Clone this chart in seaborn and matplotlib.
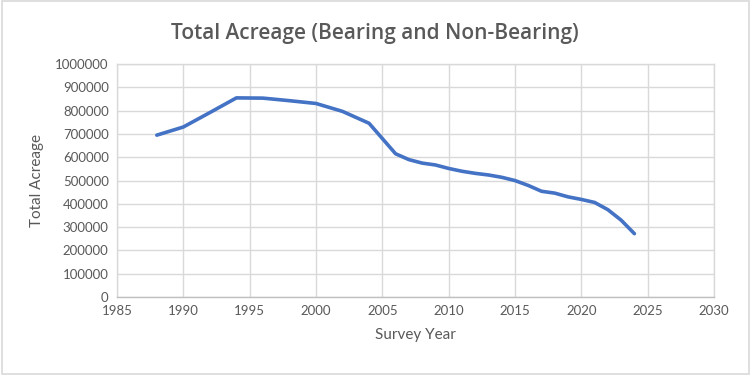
import matplotlib
matplotlib.use("Agg")
import matplotlib.pyplot as plt
import seaborn as sns
import pandas as pd
from matplotlib.patches import Rectangle

# survey data
years = [1988, 1990, 1992, 1994, 1996, 1998, 2000, 2002, 2004, 2006, 2007, 2008,
         2009, 2010, 2011, 2012, 2013, 2014, 2015, 2016, 2017, 2018, 2019, 2020,
         2021, 2022, 2023, 2024]
acreage = [695000, 730000, 792000, 855000, 854000, 843000, 831000, 797000, 746000,
           615000, 590000, 575000, 567000, 552000, 540000, 531000, 524000, 514000,
           500000, 479000, 454000, 446000, 430000, 419000, 406000, 375000, 330000,
           272000]

x_ticks = list(range(1985, 2031, 5))
y_ticks = list(range(0, 1000001, 100000))

df = pd.DataFrame({"Survey Year": years, "Total Acreage": acreage})

sns.set_style("white")
plt.rcParams["font.family"] = ["Lato", "DejaVu Sans"]

text_col = "#595959"
grid_col = "#D9D9D9"

fig = plt.figure(figsize=(7.5, 3.75), dpi=100)
ax = fig.add_axes([0.156, 0.208, 0.796, 0.621])

sns.lineplot(data=df, x="Survey Year", y="Total Acreage", ax=ax,
             color="#4472C4", linewidth=2.6, solid_capstyle="round",
             solid_joinstyle="round")

ax.set_xlim(1985, 2030)
ax.set_ylim(0, 1000000)
ax.set_xticks(x_ticks)
ax.set_yticks(y_ticks)
ax.set_xticklabels([str(t) for t in x_ticks])
ax.set_yticklabels([str(t) for t in y_ticks])
ax.tick_params(colors=text_col, labelsize=9.5, length=0, pad=6)
ax.grid(True, color=grid_col, linewidth=1)
for s in ax.spines.values():
    s.set_color(grid_col)
    s.set_linewidth(1)
ax.spines["bottom"].set_color("#BFBFBF")

ax.set_xlabel("Survey Year", color=text_col, fontsize=11, labelpad=8)
ax.set_ylabel("Total Acreage", color=text_col, fontsize=11, labelpad=8)
fig.suptitle("Total Acreage (Bearing and Non-Bearing)", color=text_col,
             fontsize=15, y=0.94, family=["Open Sans", "DejaVu Sans"],
             fontweight="semibold")

fig.patches.append(Rectangle((0.002, 0.003), 0.996, 0.994, transform=fig.transFigure,
                             fill=False, edgecolor="#D9D9D9", linewidth=1.2))

fig.savefig("out.png", dpi=100)
